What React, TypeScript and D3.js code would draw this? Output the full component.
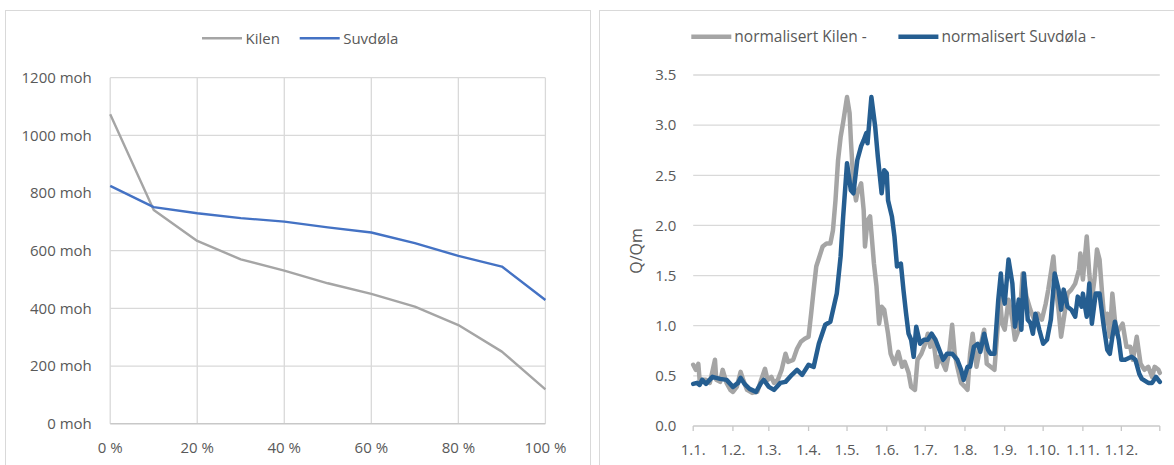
import React, { useRef, useEffect } from 'react';
import * as d3 from 'd3';

// Left chart: hypsographic curves (share of area vs elevation)
const areaPct = [0, 10, 20, 30, 40, 50, 60, 70, 80, 90, 100];
const kilenElev = [1073, 741, 634, 570, 531, 487, 450, 406, 342, 250, 119];
const suvdolaElev = [825, 751, 730, 713, 701, 681, 663, 626, 582, 545, 429];
const elevTicks = [0, 200, 400, 600, 800, 1000, 1200];
const pctTicks = [0, 20, 40, 60, 80, 100];

// Right chart: normalised runoff Q/Qm, day-of-year samples
const kilenDay = [0, 2, 4, 5, 10, 13, 17, 18, 21, 23, 26, 29, 31, 34, 37, 39, 42, 46, 50, 53, 56, 58, 61, 63, 66, 69, 72, 74, 78, 81, 84, 87, 90, 92, 94, 96, 98, 101, 104, 107, 109, 111, 113, 115, 117, 120, 122, 123, 125, 127, 128, 131, 133, 134, 136, 138, 141, 143, 145, 147, 149, 152, 154, 157, 160, 163, 165, 168, 170, 173, 175, 178, 181, 183, 185, 187, 190, 192, 195, 197, 200, 202, 204, 206, 209, 212, 214, 216, 218, 221, 224, 227, 229, 232, 235, 238, 239, 241, 243, 246, 249, 251, 254, 257, 260, 263, 266, 269, 272, 275, 277, 281, 283, 285, 287, 289, 292, 295, 298, 301, 302, 304, 307, 309, 311, 313, 315, 317, 319, 321, 323, 325, 327, 330, 332, 335, 338, 341, 343, 346, 349, 352, 355, 358, 360, 363, 364];
const kilenQ = [0.61, 0.56, 0.62, 0.46, 0.46, 0.43, 0.66, 0.46, 0.44, 0.56, 0.43, 0.36, 0.34, 0.39, 0.54, 0.46, 0.36, 0.33, 0.34, 0.46, 0.57, 0.46, 0.49, 0.43, 0.46, 0.56, 0.72, 0.64, 0.66, 0.77, 0.84, 0.87, 0.89, 1.12, 1.36, 1.59, 1.67, 1.79, 1.82, 1.82, 1.95, 2.25, 2.65, 2.88, 3.03, 3.28, 3.12, 2.85, 2.42, 2.25, 2.32, 2.42, 2.15, 1.79, 2.05, 2.09, 1.62, 1.39, 1.02, 1.19, 1.16, 0.92, 0.72, 0.62, 0.74, 0.59, 0.64, 0.53, 0.39, 0.36, 0.66, 0.72, 0.82, 0.92, 0.79, 0.89, 0.59, 0.69, 0.62, 0.56, 0.76, 1.01, 0.72, 0.59, 0.43, 0.39, 0.36, 0.72, 0.92, 0.59, 0.79, 0.96, 0.62, 0.59, 0.56, 1.06, 1.32, 1.02, 0.96, 1.26, 1.06, 0.86, 0.96, 1.52, 1.29, 1.16, 1.06, 1.12, 1.06, 1.22, 1.36, 1.69, 1.36, 1.16, 0.89, 1.06, 1.32, 1.36, 1.42, 1.56, 1.72, 1.46, 1.89, 1.52, 1.26, 1.46, 1.76, 1.66, 1.32, 1.02, 1.12, 0.89, 1.32, 0.92, 0.96, 1.02, 0.79, 0.79, 0.66, 0.89, 0.62, 0.56, 0.59, 0.49, 0.59, 0.56, 0.53];

const suvdolaDay = [0, 3, 5, 7, 10, 15, 21, 26, 31, 35, 37, 40, 44, 49, 53, 55, 59, 63, 68, 72, 77, 81, 85, 90, 94, 98, 103, 107, 112, 115, 117, 120, 123, 125, 128, 131, 133, 135, 136, 139, 142, 144, 147, 149, 151, 152, 155, 157, 159, 162, 164, 166, 168, 170, 172, 174, 177, 180, 183, 186, 189, 192, 195, 198, 202, 206, 209, 211, 214, 216, 219, 222, 224, 227, 230, 232, 235, 238, 240, 241, 243, 246, 249, 251, 254, 256, 258, 261, 263, 265, 267, 270, 273, 276, 279, 282, 285, 287, 289, 292, 295, 298, 300, 303, 304, 307, 309, 311, 314, 317, 320, 323, 325, 327, 329, 332, 334, 337, 342, 345, 348, 350, 355, 358, 361, 364];
const suvdolaQ = [0.42, 0.43, 0.41, 0.46, 0.42, 0.49, 0.47, 0.46, 0.39, 0.43, 0.48, 0.42, 0.37, 0.34, 0.43, 0.46, 0.39, 0.36, 0.43, 0.44, 0.51, 0.56, 0.51, 0.61, 0.59, 0.82, 1.01, 1.04, 1.32, 1.69, 2.09, 2.62, 2.35, 2.32, 2.65, 2.79, 2.85, 2.92, 2.82, 3.28, 2.98, 2.69, 2.32, 2.55, 2.52, 2.25, 2.09, 1.89, 1.59, 1.62, 1.36, 1.13, 0.92, 0.86, 0.69, 0.99, 0.82, 0.86, 0.86, 0.92, 0.86, 0.76, 0.66, 0.72, 0.72, 0.66, 0.56, 0.46, 0.59, 0.59, 0.79, 0.82, 0.74, 0.92, 0.76, 0.72, 0.72, 1.26, 1.52, 1.36, 1.22, 1.66, 1.42, 0.99, 1.26, 0.96, 1.52, 1.06, 1.03, 0.92, 1.12, 0.96, 0.82, 0.86, 1.06, 1.52, 1.36, 1.16, 1.36, 1.19, 1.16, 1.09, 1.29, 1.19, 1.32, 1.09, 1.42, 1.02, 1.32, 1.32, 1.02, 0.76, 0.72, 0.89, 1.04, 0.86, 0.66, 0.66, 0.69, 0.66, 0.52, 0.47, 0.43, 0.43, 0.49, 0.44];

const qTicks = [0, 0.5, 1, 1.5, 2, 2.5, 3, 3.5];

const FONT = '"Open Sans", sans-serif';
const TEXT = '#595959';
const GRID = '#d9d9d9';
const GRAY = '#a5a5a5';
const BLUE_L = '#4472c4';
const BLUE_R = '#255e91';

const App = () => {
  const ref = useRef<SVGSVGElement>(null);

  useEffect(() => {
    const svg = d3.select(ref.current);
    svg.selectAll('*').remove();

    // panel frames
    svg.append('rect').attr('x', 5.5).attr('y', 10.5).attr('width', 585).attr('height', 470)
      .attr('fill', '#fff').attr('stroke', GRID);
    svg.append('rect').attr('x', 599.5).attr('y', 10.5).attr('width', 600).attr('height', 470)
      .attr('fill', '#fff').attr('stroke', GRID);

    // ---------- left chart ----------
    const x1 = d3.scaleLinear().domain([0, 100]).range([110.2, 545.4]);
    const y1 = d3.scaleLinear().domain([0, 1200]).range([423.7, 77.7]);
    const left = svg.append('g');

    left.selectAll('.hgrid').data(elevTicks.slice(1)).enter().append('line')
      .attr('x1', x1(0)).attr('x2', x1(100))
      .attr('y1', d => y1(d)).attr('y2', d => y1(d))
      .attr('stroke', GRID).attr('stroke-width', 1.3);
    left.selectAll('.vgrid').data(pctTicks).enter().append('line')
      .attr('x1', d => x1(d)).attr('x2', d => x1(d))
      .attr('y1', y1(0)).attr('y2', y1(1200))
      .attr('stroke', GRID).attr('stroke-width', 1.3);
    left.append('line').attr('x1', x1(0)).attr('x2', x1(100))
      .attr('y1', y1(0)).attr('y2', y1(0)).attr('stroke', '#c8c8c8').attr('stroke-width', 1.5);

    left.selectAll('.ylab').data(elevTicks).enter().append('text')
      .attr('x', 91.8).attr('y', d => y1(d)).attr('dy', '0.35em')
      .attr('text-anchor', 'end').attr('font-family', FONT).attr('font-size', 15)
      .attr('fill', TEXT).text(d => `${d} moh`);
    left.selectAll('.xlab').data(pctTicks).enter().append('text')
      .attr('x', d => x1(d)).attr('y', 447.7).attr('dy', '0.35em')
      .attr('text-anchor', 'middle').attr('font-family', FONT).attr('font-size', 15)
      .attr('fill', TEXT).text(d => `${d} %`);

    const line1 = d3.line<number>().x((_, i) => x1(areaPct[i])).y(d => y1(d));
    left.append('path').datum(kilenElev).attr('d', line1)
      .attr('fill', 'none').attr('stroke', GRAY).attr('stroke-width', 2.4).attr('stroke-linejoin', 'round');
    left.append('path').datum(suvdolaElev).attr('d', line1)
      .attr('fill', 'none').attr('stroke', BLUE_L).attr('stroke-width', 2.4).attr('stroke-linejoin', 'round');

    const legL = [
      { name: 'Kilen', color: GRAY, x: 202 },
      { name: 'Suvdøla', color: BLUE_L, x: 299.7 },
    ];
    legL.forEach(l => {
      left.append('line').attr('x1', l.x).attr('x2', l.x + 40).attr('y1', 38.3).attr('y2', 38.3)
        .attr('stroke', l.color).attr('stroke-width', 2.4);
      left.append('text').attr('x', l.x + 43.5).attr('y', 38.3).attr('dy', '0.35em')
        .attr('font-family', FONT).attr('font-size', 15).attr('fill', TEXT).text(l.name);
    });

    // ---------- right chart ----------
    const t0 = new Date(2019, 0, 1);
    const t1 = new Date(2019, 11, 31);
    const dayToDate = (d: number) => d3.timeDay.offset(t0, d);
    const x2 = d3.scaleTime().domain([t0, t1]).range([693.2, 1159.8]);
    const y2 = d3.scaleLinear().domain([0, 3.5]).range([426, 75]);
    const right = svg.append('g');

    right.selectAll('.hgrid').data(qTicks.slice(1)).enter().append('line')
      .attr('x1', x2(t0)).attr('x2', x2(t1))
      .attr('y1', d => y2(d)).attr('y2', d => y2(d))
      .attr('stroke', GRID).attr('stroke-width', 1.3);
    right.append('line').attr('x1', x2(t0)).attr('x2', x2(t1))
      .attr('y1', y2(0)).attr('y2', y2(0)).attr('stroke', '#c8c8c8').attr('stroke-width', 1.5);

    const months = d3.timeMonth.range(t0, new Date(2020, 0, 1));
    const tickDates = [...months, t1];
    right.selectAll('.tick').data(tickDates).enter().append('line')
      .attr('x1', d => x2(d)).attr('x2', d => x2(d))
      .attr('y1', y2(0)).attr('y2', y2(0) + 5)
      .attr('stroke', '#c8c8c8').attr('stroke-width', 1.3);
    right.selectAll('.xlab').data(months).enter().append('text')
      .attr('x', d => x2(d)).attr('y', 449.3).attr('dy', '0.35em')
      .attr('text-anchor', 'middle').attr('font-family', FONT).attr('font-size', 15)
      .attr('fill', TEXT).text(d => d3.timeFormat('%-d.%-m.')(d));

    right.selectAll('.ylab').data(qTicks).enter().append('text')
      .attr('x', 676.4).attr('y', d => y2(d)).attr('dy', '0.35em')
      .attr('text-anchor', 'end').attr('font-family', FONT).attr('font-size', 15)
      .attr('fill', TEXT).text(d => d3.format('.1f')(d));

    right.append('text')
      .attr('transform', 'translate(636.5,251) rotate(-90)')
      .attr('text-anchor', 'middle').attr('dy', '0.35em')
      .attr('font-family', FONT).attr('font-size', 16).attr('fill', TEXT).text('Q/Qm');

    const line2 = (days: number[]) => d3.line<number>()
      .x((_, i) => x2(dayToDate(days[i])))
      .y(d => y2(d));
    right.append('path').datum(kilenQ).attr('d', line2(kilenDay))
      .attr('fill', 'none').attr('stroke', GRAY).attr('stroke-width', 4.5)
      .attr('stroke-linejoin', 'round').attr('stroke-linecap', 'round');
    right.append('path').datum(suvdolaQ).attr('d', line2(suvdolaDay))
      .attr('fill', 'none').attr('stroke', BLUE_R).attr('stroke-width', 4.5)
      .attr('stroke-linejoin', 'round').attr('stroke-linecap', 'round');

    const legR = [
      { name: 'normalisert Kilen -', color: GRAY, x: 691.3 },
      { name: 'normalisert Suvdøla -', color: BLUE_R, x: 898.4 },
    ];
    legR.forEach(l => {
      right.append('line').attr('x1', l.x).attr('x2', l.x + 40).attr('y1', 36.7).attr('y2', 36.7)
        .attr('stroke', l.color).attr('stroke-width', 4.5);
      right.append('text').attr('x', l.x + 43).attr('y', 36.7).attr('dy', '0.35em')
        .attr('font-family', FONT).attr('font-size', 15.5).attr('fill', TEXT).text(l.name);
    });
  }, []);

  return (
    <svg ref={ref} width={1174} height={465}
      style={{ position: 'absolute', left: 0, top: 0, background: '#fff' }} />
  );
};

export default App;
